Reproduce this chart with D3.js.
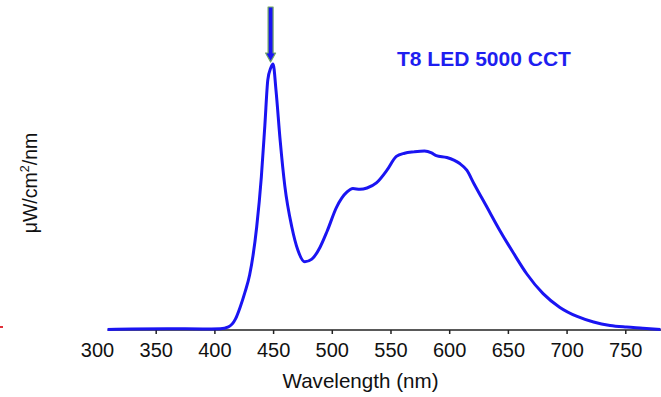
<!DOCTYPE html>
<html>
<head>
<meta charset="utf-8">
<script src="https://cdn.jsdelivr.net/npm/d3@7"></script>
<style>
  html, body { margin: 0; padding: 0; background: #fff; }
  svg { display: block; font-family: "Liberation Sans", Arial, Helvetica, sans-serif; }
</style>
</head>
<body>
<div id="chart"></div>
<script>
// spectrum (relative intensity, peak = 1)
var wavelengths = [309, 330, 360, 390, 405, 412, 418, 422, 426, 430, 436, 440, 443, 445.5, 448, 450,
  452.5, 456, 460, 466, 471, 477, 483, 490, 496, 504, 513, 518, 524, 530, 538, 547, 555, 562,
  570, 579, 585, 589, 598, 604, 609, 615, 621, 632, 643, 655, 666, 680, 694, 709, 723, 737, 751, 765, 780];
var intensity = [0, 0.002, 0.003, 0.002, 0.003, 0.01, 0.04, 0.085, 0.14, 0.205, 0.385, 0.575, 0.77, 0.94, 0.985, 1.0,
  0.9, 0.713, 0.54, 0.385, 0.3, 0.255, 0.265, 0.31, 0.37, 0.46, 0.518, 0.531, 0.528, 0.533, 0.552, 0.6, 0.652, 0.664,
  0.669, 0.672, 0.665, 0.655, 0.648, 0.638, 0.625, 0.6, 0.55, 0.462, 0.374, 0.286, 0.21, 0.135, 0.084, 0.049, 0.028, 0.015, 0.009, 0.005, 0];
var tickLabels = [300, 350, 400, 450, 500, 550, 600, 650, 700, 750];
var chartTitle = "T8 LED 5000 CCT";

var width = 661, height = 397;

var svg = d3.select("#chart").append("svg")
  .attr("width", width).attr("height", height);

var x = d3.scaleLinear().domain([300, 780]).range([97, 660.5]);
var y = d3.scaleLinear().domain([0, 1]).range([329.5, 64]);

var data = wavelengths.map(function (w, i) {
  return {w: w, v: intensity[i]};
});

// x axis
var axisY = 330;
var xAxis = d3.axisBottom(x)
  .tickValues(tickLabels)
  .tickSize(4)
  .tickPadding(9)
  .tickFormat(d3.format("d"));

var gx = svg.append("g")
  .attr("transform", "translate(0," + axisY + ")")
  .call(xAxis);
gx.select(".domain").remove();
gx.selectAll(".tick line")
  .attr("stroke", "#222")
  .attr("stroke-width", 1.5)
  .filter(function (d) { return d === 300; }).remove();
gx.selectAll(".tick text")
  .attr("font-size", 20)
  .attr("font-family", "\"Liberation Sans\", Arial, sans-serif")
  .attr("fill", "#111");

svg.append("line")
  .attr("x1", x(wavelengths[0])).attr("x2", width)
  .attr("y1", axisY).attr("y2", axisY)
  .attr("stroke", "#222")
  .attr("stroke-width", 1.6);

// spectrum curve
var line = d3.line()
  .x(function (d) { return x(d.w); })
  .y(function (d) { return y(d.v); })
  .curve(d3.curveMonotoneX);

svg.append("path")
  .datum(data)
  .attr("d", line)
  .attr("fill", "none")
  .attr("stroke", "#1a14f2")
  .attr("stroke-width", 3)
  .attr("stroke-linejoin", "round");

// arrow pointing at the blue peak
var peak = data.reduce(function (a, b) { return b.v > a.v ? b : a; });
var ax = x(peak.w) - 2.5;
var tipY = y(peak.v) - 2;
svg.append("path")
  .attr("d", "M" + (ax - 2.5) + ",7 L" + (ax + 2.5) + ",7 L" + (ax + 2.5) + "," + (tipY - 9) +
    " L" + (ax + 5) + "," + (tipY - 9) + " L" + ax + "," + tipY + " L" + (ax - 5) + "," + (tipY - 9) +
    " L" + (ax - 2.5) + "," + (tipY - 9) + " Z")
  .attr("fill", "#1a14f2")
  .attr("stroke", "#72a862")
  .attr("stroke-width", 1.2)
  .attr("stroke-linejoin", "round");

// title
svg.append("text")
  .attr("x", 397).attr("y", 66)
  .attr("font-size", 21)
  .attr("font-weight", "bold")
  .attr("fill", "#1e1ef0")
  .text(chartTitle);

// y label
var yl = svg.append("text")
  .attr("transform", "translate(37,183) rotate(-90)")
  .attr("text-anchor", "middle")
  .attr("font-size", 19.5)
  .attr("fill", "#111");
yl.append("tspan").text("\u03bcW/cm");
yl.append("tspan").attr("font-size", 12.5).attr("dy", -8).text("2");
yl.append("tspan").attr("dy", 8).text("/nm");

// x label
svg.append("text")
  .attr("x", 360.5).attr("y", 388)
  .attr("text-anchor", "middle")
  .attr("font-size", 20.6)
  .attr("fill", "#111")
  .text("Wavelength (nm)");

// small red mark at the left edge
svg.append("rect")
  .attr("x", 0).attr("y", 326)
  .attr("width", 3).attr("height", 2)
  .attr("fill", "#e0303a");
</script>
</body>
</html>
